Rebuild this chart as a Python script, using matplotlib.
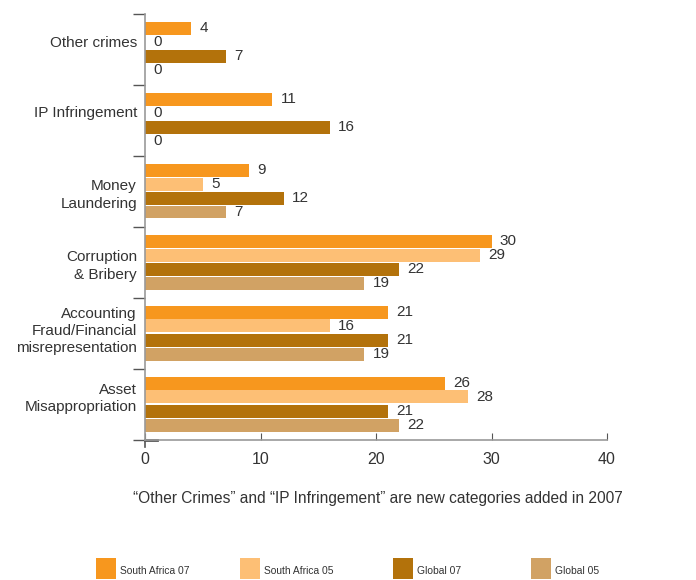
import matplotlib.pyplot as plt
import matplotlib.patches as mpatches
import numpy as np

plt.rcParams['font.family'] = ['Liberation Sans', 'DejaVu Sans']

# crime categories, top to bottom
categories = ['Other crimes', 'IP Infringement', 'Money\nLaundering',
              'Corruption\n& Bribery', 'Accounting\nFraud/Financial\nmisrepresentation',
              'Asset\nMisappropriation']
series = ['South Africa 07', 'South Africa 05', 'Global 07', 'Global 05']
sa07 = [4, 11, 9, 30, 21, 26]
sa05 = [0, 0, 5, 29, 16, 28]
gl07 = [7, 16, 12, 22, 21, 21]
gl05 = [0, 0, 7, 19, 19, 22]
values = [sa07, sa05, gl07, gl05]
colors = ['#F7971E', '#FDBF75', '#B3720B', '#D1A264']
xticks = [0, 10, 20, 30, 40]
note = '\u201cOther Crimes\u201d and \u201cIP Infringement\u201d are new categories added in 2007'

# where each category label sits inside its band (fraction from band top)
label_pos = [0.41, 0.39, 0.55, 0.55, 0.465, 0.42]
legend_x = [96, 240, 393, 531]

fig = plt.figure(figsize=(6.96, 5.8), dpi=100)
ax = fig.add_axes([145/696, 1-440/580, (607-145)/696, (440-14)/580])

n = len(categories)
grp = np.arange(n)
bar_h = 13/71
step = 14/71
first = 14/71
for k, (vals, col) in enumerate(zip(values, colors)):
    y = grp + first + k*step
    ax.barh(y, vals, height=bar_h, color=col, linewidth=0)
    for yy, v in zip(y, vals):
        ax.annotate(str(v), (v, yy), xytext=(6, 0), textcoords='offset points',
                    va='center', ha='left', fontsize=11, color='#333333')

ax.set_xlim(0, 40)
ax.set_ylim(n, 0)
ax.set_xticks(xticks)
ax.set_xticklabels([str(t) for t in xticks], fontsize=11.5, color='#333333')
ax.tick_params(axis='x', direction='in', length=5, color='#555555', pad=9)

ax.set_yticks(np.arange(n+1))
ax.set_yticklabels([])
ax.tick_params(axis='y', direction='out', length=8.5, color='#555555', width=1)

for i, lab in enumerate(categories):
    ax.text(-0.7, i + label_pos[i], lab, ha='right', va='center', fontsize=11,
            color='#333333', linespacing=1.3)

for s in ['top', 'right']:
    ax.spines[s].set_visible(False)
for s in ['left', 'bottom']:
    ax.spines[s].set_color('#999999')
    ax.spines[s].set_linewidth(1.2)
ax.plot([0, 0], [0, -0.017], transform=ax.transAxes, color='#555555', lw=1.2, clip_on=False)
ax.plot([0, 0.026], [0.0, 0.0], transform=ax.transAxes, color='#555555', lw=2, clip_on=False)

fig.text(378/696, 1-499/580, note, ha='center', va='center', fontsize=11.2, color='#333333')

for x0, name, col in zip(legend_x, series, colors):
    fig.patches.append(mpatches.Rectangle((x0/696, 1-579/580), 20/696, 21/580,
                                          transform=fig.transFigure, color=col, lw=0))
    fig.text((x0+24)/696, 1-571/580, name, ha='left', va='center', fontsize=7.4, color='#333333')

fig.savefig('out.png', dpi=100)
